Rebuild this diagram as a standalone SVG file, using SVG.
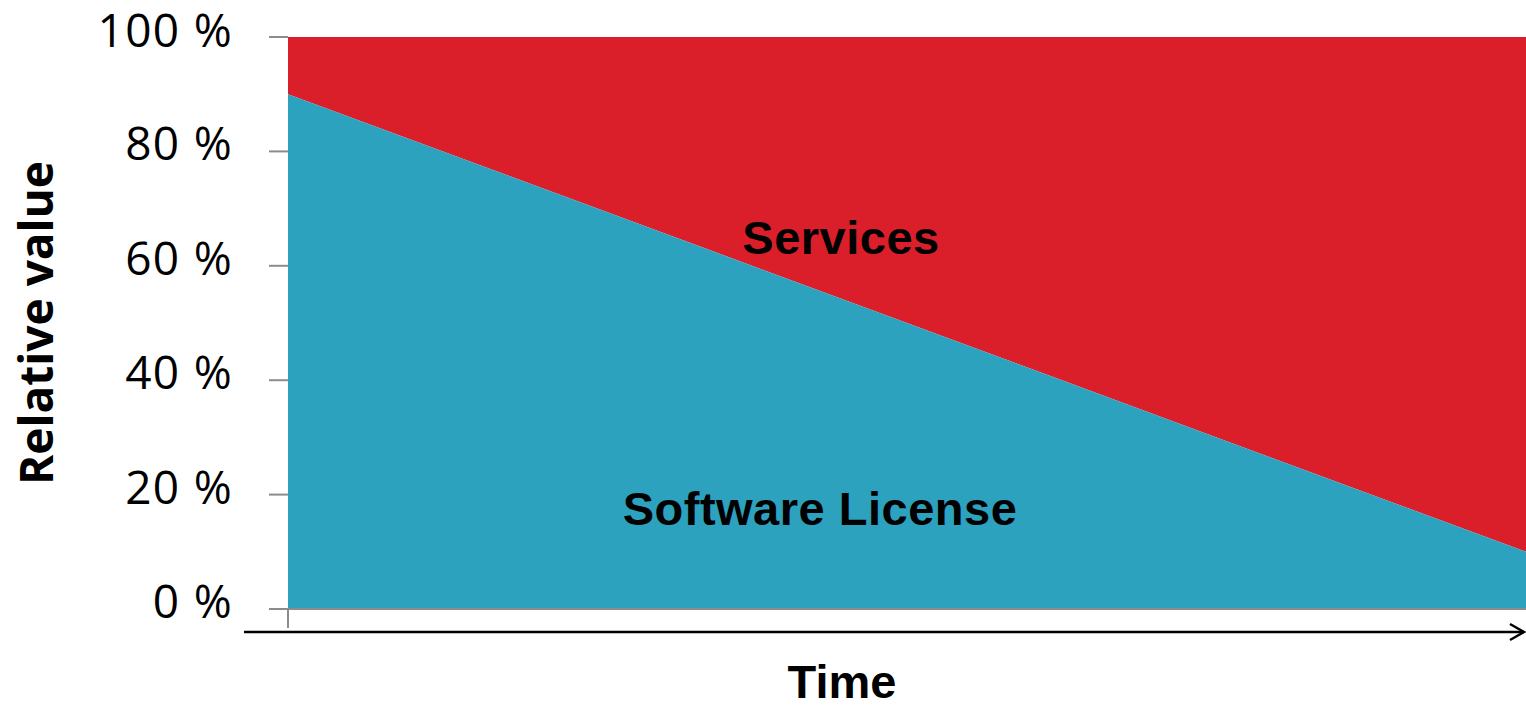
<svg xmlns="http://www.w3.org/2000/svg" width="1526" height="705" viewBox="0 0 1526 705">
<style>
.tick{stroke:#8c8c8c;stroke-width:2;fill:none}
.ylab{font-family:"Open Sans","DejaVu Sans",sans-serif;font-size:46px;fill:#000;text-anchor:end;letter-spacing:1.3px}
.big{font-family:"Liberation Sans",Arial,sans-serif;font-weight:bold;font-size:47px;fill:#000;text-anchor:middle}
</style>
<defs>
<marker id="arr" markerWidth="20" markerHeight="20" refX="18" refY="10" orient="auto" markerUnits="userSpaceOnUse">
<path d="M4,2 L18,10 L4,18" fill="none" stroke="#000" stroke-width="2.5"/>
</marker>
</defs>
<rect width="1526" height="705" fill="#fff"/>
<g id="chart">
<polygon points="288,37 1526,37 1526,551.8 288,94.2" fill="#DA1F2A"/>
<polygon points="288,94.2 1526,551.8 1526,609 288,609" fill="#2CA2BF"/>
</g>
<g id="axes">
<line class="tick" x1="269" y1="37" x2="288" y2="37"/>
<line class="tick" x1="269" y1="151.4" x2="288" y2="151.4"/>
<line class="tick" x1="269" y1="265.8" x2="288" y2="265.8"/>
<line class="tick" x1="269" y1="380.2" x2="288" y2="380.2"/>
<line class="tick" x1="269" y1="494.6" x2="288" y2="494.6"/>
<line class="tick" x1="269" y1="609" x2="1526" y2="609"/>
<line class="tick" x1="288" y1="609" x2="288" y2="628"/>
<line x1="244" y1="632" x2="1524" y2="632" stroke="#000" stroke-width="2.5" marker-end="url(#arr)"/>
<text class="ylab" x="233" y="47">100 %</text>
<text class="ylab" x="233" y="160">80 %</text>
<text class="ylab" x="233" y="275">60 %</text>
<text class="ylab" x="233" y="389">40 %</text>
<text class="ylab" x="233" y="504">20 %</text>
<text class="ylab" x="233" y="618">0 %</text>
<text x="53" y="323" transform="rotate(-90 53 323)" font-family="'Open Sans','DejaVu Sans',sans-serif" font-weight="bold" font-size="46" text-anchor="middle">Relative value</text>
<text class="big" x="842" y="698">Time</text>
</g>
<g id="services"><text class="big" x="841" y="254" letter-spacing="0.5">Services</text></g>
<g id="license"><text class="big" x="820" y="525" letter-spacing="0.5">Software License</text></g>
</svg>
